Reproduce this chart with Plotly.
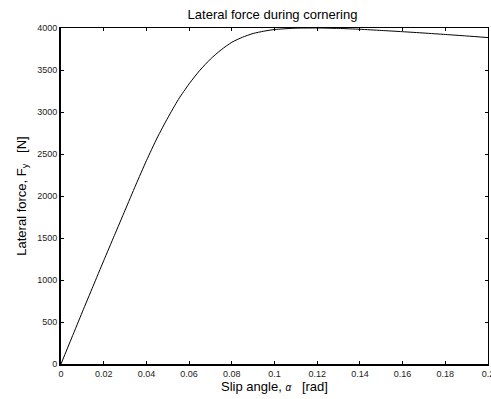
import plotly.graph_objects as go

# Data
slip_angle = [0.0, 0.005, 0.01, 0.015, 0.02, 0.025, 0.03, 0.035, 0.04, 0.045, 0.05,
              0.055, 0.06, 0.065, 0.07, 0.075, 0.08, 0.085, 0.09, 0.095, 0.10,
              0.11, 0.12, 0.13, 0.14, 0.15, 0.16, 0.17, 0.18, 0.19, 0.20]
lateral_force = [0, 310, 620, 925, 1230, 1530, 1830, 2130, 2420, 2690, 2930,
                 3150, 3335, 3495, 3630, 3740, 3830, 3890, 3935, 3962, 3982,
                 3998, 4000, 3995, 3985, 3971, 3956, 3940, 3923, 3905, 3886]

x_ticks = [0, 0.02, 0.04, 0.06, 0.08, 0.1, 0.12, 0.14, 0.16, 0.18, 0.2]
x_tick_text = ["0", "0.02", "0.04", "0.06", "0.08", "0.1", "0.12", "0.14", "0.16", "0.18", "0.2"]
y_ticks = [0, 500, 1000, 1500, 2000, 2500, 3000, 3500, 4000]

FONT = "Liberation Sans, Arial, sans-serif"
X_RANGE = [0, 0.2000001]

fig = go.Figure()
fig.add_trace(go.Scatter(x=slip_angle, y=lateral_force, mode="lines",
                         line=dict(color="black", width=1, shape="spline", smoothing=0.6),
                         hoverinfo="skip", showlegend=False))
# invisible trace to anchor mirrored axes
fig.add_trace(go.Scatter(x=[0], y=[0], xaxis="x2", yaxis="y2", mode="markers",
                         marker=dict(opacity=0), showlegend=False, hoverinfo="skip"))

common_tick = dict(ticks="inside", ticklen=3, tickwidth=1, tickcolor="black",
                   showgrid=False, zeroline=False, automargin=False)

fig.update_layout(
    width=491, height=399,
    margin=dict(l=61, r=3, t=28, b=35, autoexpand=False),
    paper_bgcolor="white", plot_bgcolor="white",
    font=dict(family=FONT, color="black"),
    title=dict(text="Lateral force during cornering", x=0.555, xanchor="center",
               y=0.965, yanchor="middle", font=dict(size=13, family=FONT, color="black")),
    xaxis=dict(range=X_RANGE, tickvals=x_ticks, ticktext=x_tick_text,
               showline=True, linewidth=2, linecolor="black",
               tickfont=dict(size=9, color="#222"), ticklabeloverflow="allow",
               title=dict(text="Slip angle, <i><span style='font-size:10px'>α</span></i>&nbsp;&nbsp;&nbsp;[rad]",
                          font=dict(size=13), standoff=4),
               **common_tick),
    yaxis=dict(range=[0, 4000], tickvals=y_ticks,
               showline=True, linewidth=2, linecolor="black",
               tickfont=dict(size=9, color="#222"), ticklabeloverflow="allow",
               title=dict(text="Lateral force, F<sub>y</sub>&nbsp;&nbsp;&nbsp;[N]", font=dict(size=13), standoff=8),
               **common_tick),
    xaxis2=dict(overlaying="x", side="top", matches="x", range=X_RANGE, tickvals=x_ticks,
                showticklabels=False, showline=True, linewidth=1, linecolor="black",
                anchor="y", **common_tick),
    yaxis2=dict(overlaying="y", side="right", matches="y", range=[0, 4000], tickvals=y_ticks,
                showticklabels=False, showline=True, linewidth=1, linecolor="black",
                anchor="x", **common_tick),
)

fig.write_html("out.html")
